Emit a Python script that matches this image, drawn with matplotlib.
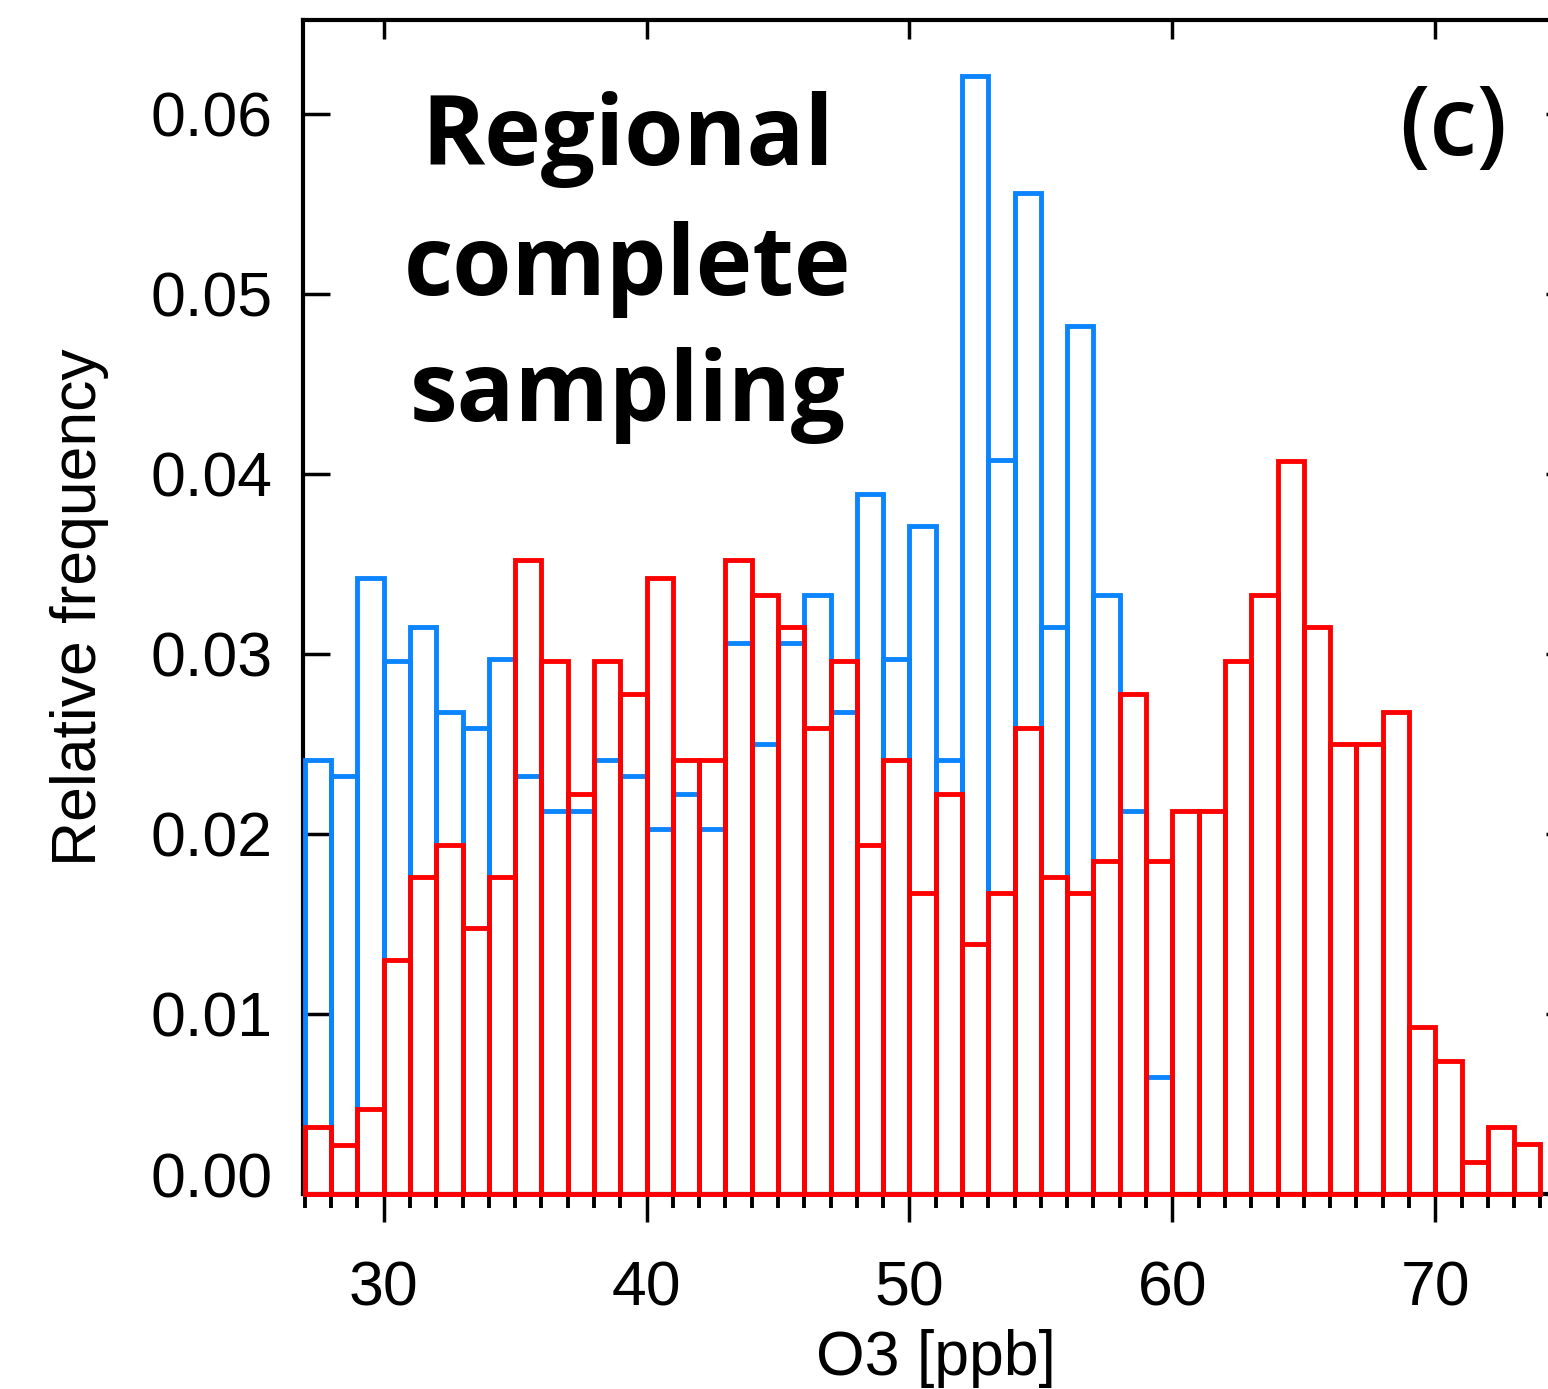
import matplotlib
matplotlib.use("Agg")
import matplotlib.pyplot as plt
from matplotlib.transforms import ScaledTranslation
import numpy as np

# histogram bins (1 ppb wide), left edges
blue_left = np.arange(27, 60)
red_left = np.arange(27, 74)

# relative frequency
blue_freq = [0.0241, 0.0232, 0.0342, 0.0296, 0.0315, 0.0268, 0.0259, 0.0297,
             0.0232, 0.0213, 0.0213, 0.0241, 0.0232, 0.0203, 0.0222, 0.0203,
             0.0306, 0.0250, 0.0306, 0.0333, 0.0268, 0.0389, 0.0297, 0.0371,
             0.0241, 0.0621, 0.0408, 0.0556, 0.0315, 0.0482, 0.0333, 0.0213,
             0.0065]
red_freq = [0.0037, 0.0027, 0.0047, 0.0130, 0.0176, 0.0194, 0.0148, 0.0176,
            0.0352, 0.0296, 0.0222, 0.0296, 0.0278, 0.0342, 0.0241, 0.0241,
            0.0352, 0.0333, 0.0315, 0.0259, 0.0296, 0.0194, 0.0241, 0.0167,
            0.0222, 0.0139, 0.0167, 0.0259, 0.0176, 0.0167, 0.0185, 0.0278,
            0.0185, 0.0213, 0.0213, 0.0296, 0.0333, 0.0407, 0.0315, 0.0250,
            0.0250, 0.0268, 0.0093, 0.0074, 0.0018, 0.0037, 0.0028]

x_major = [30, 40, 50, 60, 70]
y_major = [0.00, 0.01, 0.02, 0.03, 0.04, 0.05, 0.06]
y_labels = ["0.00", "0.01", "0.02", "0.03", "0.04", "0.05", "0.06"]

BLUE = "#0a84ff"
RED = "#ff0000"
W, H = 1548, 1389

fig = plt.figure(figsize=(W / 100, H / 100), dpi=100)
ax = fig.add_axes([303 / W, 195 / H, (1568 - 303) / W, 1174 / H])

ax.bar(blue_left, blue_freq, width=1, align="edge", fill=False,
       edgecolor=BLUE, linewidth=3.5, zorder=3, clip_on=False)
ax.bar(red_left, red_freq, width=1, align="edge", fill=False,
       edgecolor=RED, linewidth=3.5, zorder=4, clip_on=False)

ax.set_xlim(26.93, 75.05)
ax.set_ylim(0, 0.06522)

for s in ax.spines.values():
    s.set_linewidth(3.0)

lab_font = dict(family="Liberation Sans", size=45)

ax.set_xticks(x_major)
ax.set_xticks(np.arange(27, 75), minor=True)
ax.set_yticks(y_major)
ax.set_yticklabels(y_labels, fontdict=lab_font)
ax.set_xticklabels([str(v) for v in x_major], fontdict=lab_font)

ax.tick_params(axis="x", which="major", direction="out", length=20, width=2.5,
               pad=27, top=False)
ax.tick_params(axis="x", which="minor", direction="out", length=10, width=2.8,
               top=False)
ax.tick_params(axis="y", which="major", direction="in", length=19.5, width=2.5,
               pad=22, right=False)

# 0.00 label sits a little higher in the original
t0 = ax.yaxis.get_major_ticks()[0].label1
t0.set_transform(t0.get_transform() + ScaledTranslation(0, 19 / 100, fig.dpi_scale_trans))

top = ax.secondary_xaxis("top")
top.set_xticks(x_major)
top.tick_params(direction="in", length=14, width=2.5, labeltop=False)
right = ax.secondary_yaxis("right")
right.set_yticks(y_major)
right.tick_params(direction="in", length=16, width=2.5, labelright=False)

ax.set_xlabel("O3 [ppb]", fontdict=lab_font, labelpad=8)
ax.set_ylabel("Relative frequency", fontdict=lab_font, labelpad=30)

title_lines = ["Regional", "complete", "sampling"]
baselines = [165, 295, 421]
for line, yb in zip(title_lines, baselines):
    fig.text(628 / W, 1 - yb / H, line, ha="center", va="baseline",
             family="Open Sans", weight="bold", size=69)

fig.text(1453 / W, 1 - 130 / H, "(c)", ha="center", va="center",
         family="Open Sans", weight="semibold", size=69)

fig.savefig("out.png", dpi=100)
